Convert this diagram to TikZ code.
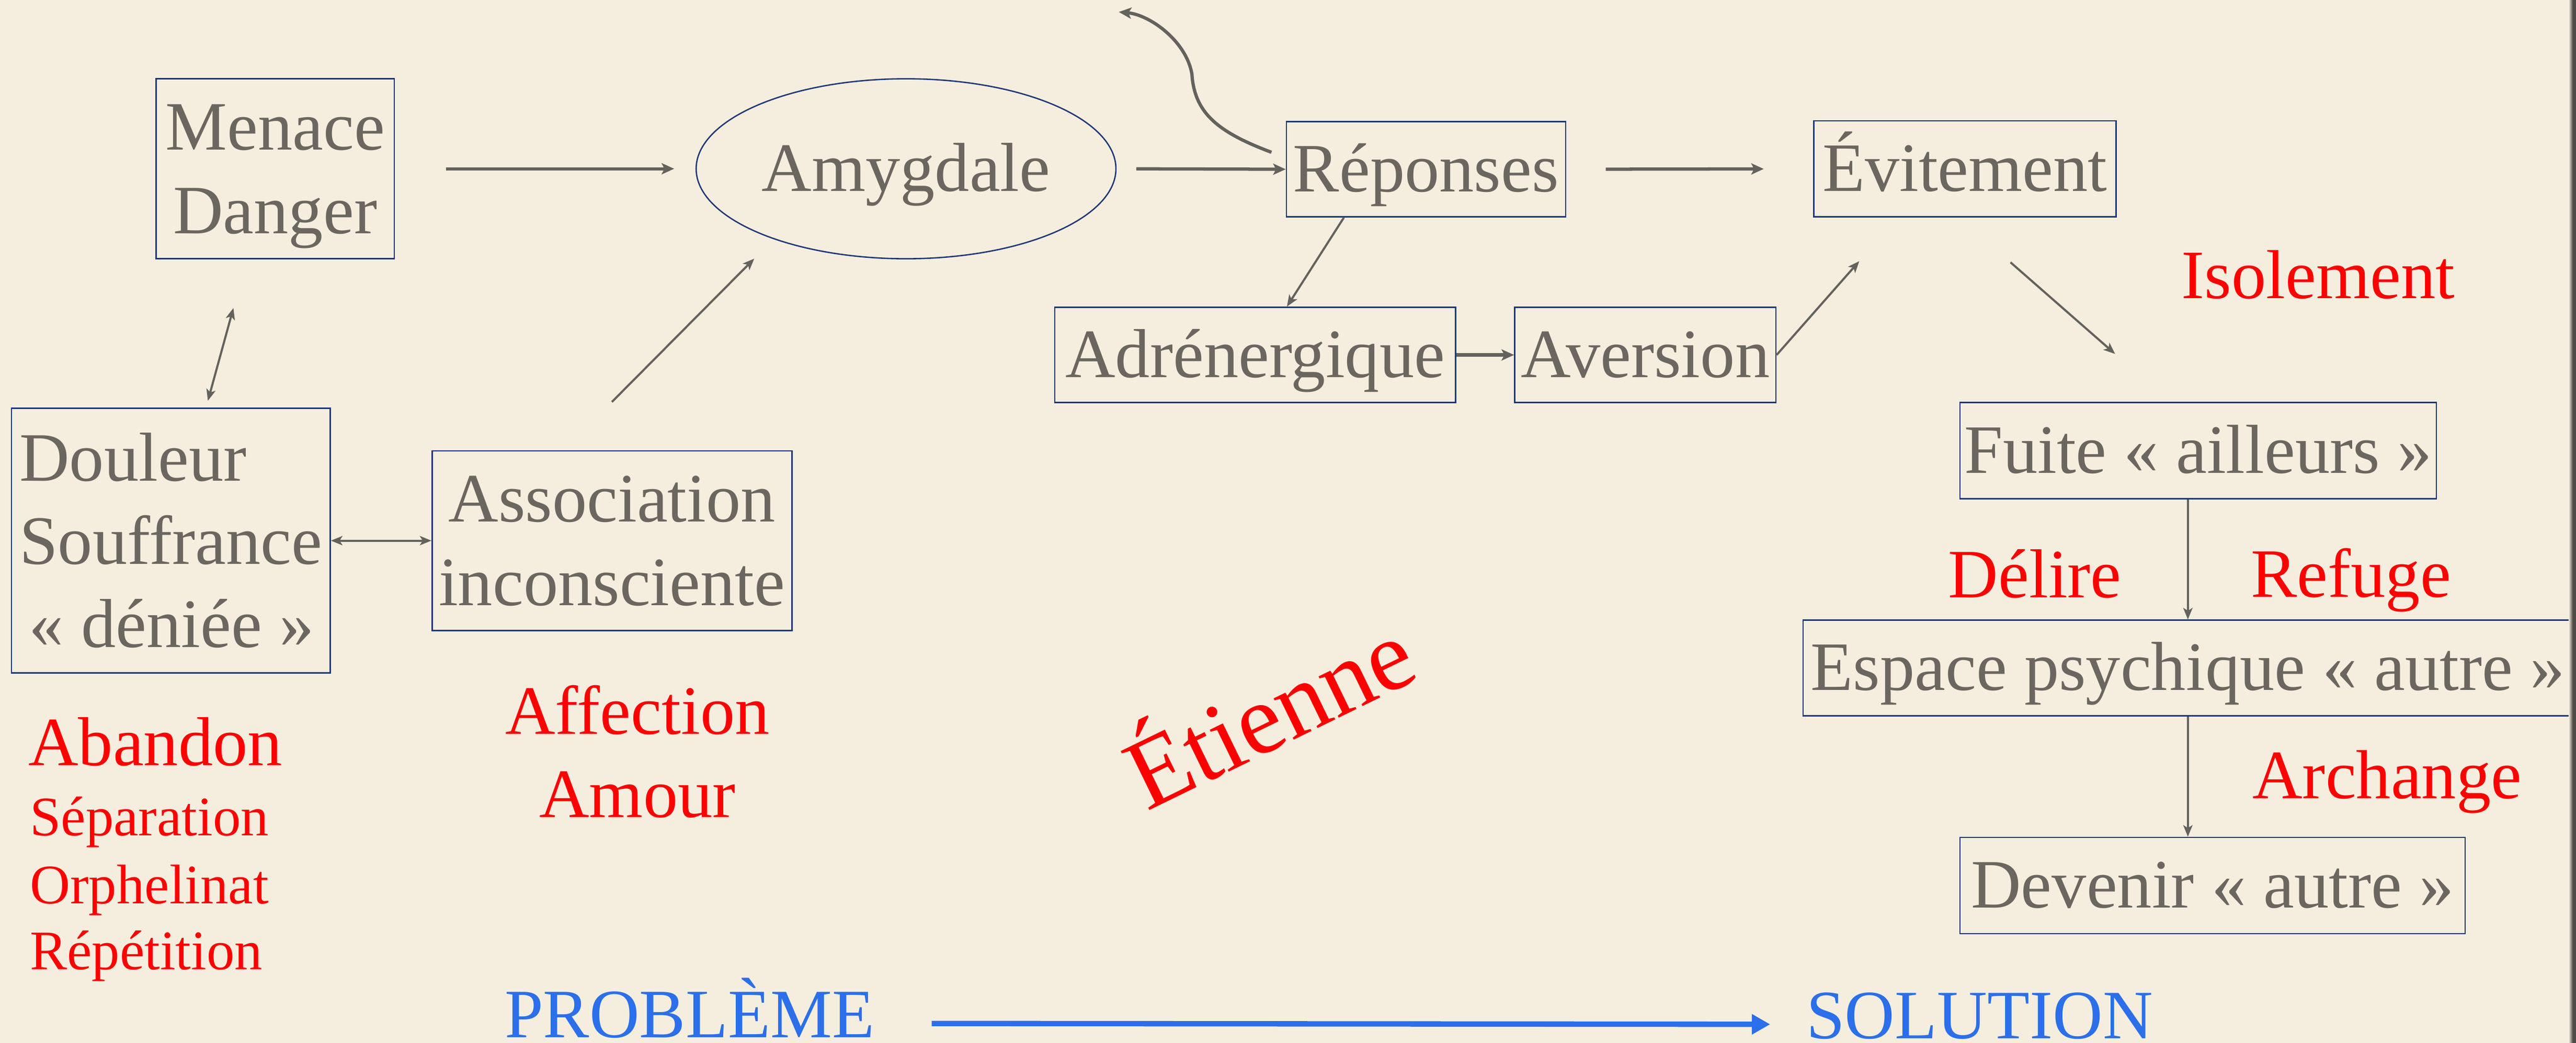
\documentclass[tikz,border=0pt]{standalone}
\usepackage{fontspec}
\setmainfont{Liberation Serif}
\usetikzlibrary{arrows.meta,shapes.geometric}
\definecolor{bg}{HTML}{F5EEDF}
\definecolor{txtgray}{HTML}{6B6760}
\definecolor{boxblue}{HTML}{1E3778}
\definecolor{arrgray}{HTML}{64625D}
\definecolor{redc}{HTML}{FF0000}
\definecolor{bluec}{HTML}{2B6FEA}
\definecolor{edgec}{HTML}{4E4B46}
\begin{document}
\begin{tikzpicture}[x=0.03cm,y=-0.03cm,
  box/.style={draw=boxblue, line width=0.7pt, inner sep=0pt, text=txtgray,
    font=\fontsize{36}{43.3}\selectfont, text height=26pt, text depth=2.7pt},
  twoline/.style={text height=20pt, text depth=39.5pt},
  threeline/.style={text height=20pt, text depth=82.2pt},
  rtxt/.style={text=redc, inner sep=0pt, font=\fontsize{36}{43}\selectfont},
  rsmall/.style={rtxt, font=\fontsize{29}{35}\selectfont},
  btxt/.style={text=bluec, inner sep=0pt, font=\fontsize{36}{43}\selectfont},
  garrow/.style={draw=arrgray, line width=1.1pt, -{Stealth[length=6pt,width=4.8pt,inset=1.5pt]}},
  garrowthick/.style={draw=arrgray, line width=1.7pt, -{Stealth[length=6.5pt,width=5.8pt,inset=1.5pt]}},
  garrowboth/.style={draw=arrgray, line width=1.1pt, {Stealth[length=6pt,width=4.8pt,inset=1.5pt]}-{Stealth[length=6pt,width=4.8pt,inset=1.5pt]}},
  barrow/.style={draw=bluec, line width=2.8pt, -{Triangle[length=9.5pt,width=10pt]}}
]
\useasboundingbox (0,0) rectangle (1568,634.7);
\fill[bg] (0,0) rectangle (1568,634.7);

% boxes
\node[box, minimum width=4.35cm, minimum height=3.285cm, twoline] (menace) at (167.5,102.7)
  {\begin{tabular}[t]{@{}c@{}}Menace\\Danger\end{tabular}};
\node[draw=boxblue, line width=0.7pt, ellipse, inner sep=0pt, text=txtgray,
  font=\fontsize{36}{43.3}\selectfont, text height=26pt, text depth=2.7pt,
  minimum width=7.665cm, minimum height=3.285cm] (amyg) at (551.5,102.7) {Amygdale};
\node[box, minimum width=5.1cm, minimum height=1.74cm] (rep) at (868,103) {Réponses};
\node[box, minimum width=7.32cm, minimum height=1.74cm] (adr) at (764,216) {Adrénergique};
\node[box, minimum width=4.77cm, minimum height=1.74cm] (av) at (1001.5,216) {Aversion};
\node[box, minimum width=5.52cm, minimum height=1.755cm] (evit) at (1196,102.75) {Évitement};
\node[box, minimum width=8.7cm, minimum height=1.755cm] (fuite) at (1338,274.25) {Fuite « ailleurs »};
\node[box, minimum width=14.055cm, minimum height=1.746cm] (esp) at (1331.75,406.5) {Espace psychique « autre »};
\node[box, minimum width=9.225cm, minimum height=1.758cm] (dev) at (1346.75,538.9) {Devenir « autre »};
\node[box, minimum width=5.82cm, minimum height=4.83cm, threeline] (doul) at (104,329)
  {\begin{tabular}[t]{@{}l@{}}Douleur\\Souffrance\\\hspace{5pt}« déniée »\end{tabular}};
\node[box, minimum width=6.57cm, minimum height=3.28cm, twoline] (assoc) at (372.5,329)
  {\begin{tabular}[t]{@{}c@{}}Association\\inconsciente\end{tabular}};

% red labels
\node[rtxt, anchor=base west] (aband) at (17,465.7) {Abandon};
\node[rsmall, anchor=base west] (separ) at (18,508.6) {Séparation};
\node[rsmall, anchor=base west] (orph) at (18,549.8) {Orphelinat};
\node[rsmall, anchor=base west] (repet) at (18,590) {Répétition};
\node[rtxt, anchor=base] (affec) at (388,446.6) {Affection};
\node[rtxt, anchor=base] (amour) at (388,497.2) {Amour};
\node[rtxt, anchor=base] (isol) at (1411,181.7) {Isolement};
\node[rtxt, anchor=base] (delire) at (1238.6,363.7) {Délire};
\node[rtxt, anchor=base] (refuge) at (1431,363.4) {Refuge};
\node[rtxt, anchor=base] (arch) at (1453,485.8) {Archange};
\node[rtxt, font=\fontsize{52}{60}\selectfont, rotate=26, anchor=base west] (etienne) at (698,494) {Étienne};

% blue bottom line
\node[btxt, anchor=base west] (prob) at (307,631.5) {PROBLÈME};
\node[btxt, anchor=base west] (sol) at (1099.3,632) {SOLUTION};
\draw[barrow] ([xshift=1.04cm,yshift=0.26cm]prob.base east) -- ([xshift=-0.654cm,yshift=0.26cm]sol.base west);

% connectors
\draw[garrowthick, shorten <=0.93cm, shorten >=0.39cm] (menace.east) -- (amyg.west);
\draw[garrowboth, shorten <=0.92cm, shorten >=0.13cm] ([xshift=-0.519cm]menace.south) -- ([xshift=0.642cm]doul.north);
\draw[garrow, shorten <=1.24cm, shorten >=0.5cm] ([xshift=-0.876cm]assoc.north) -- (amyg.208.5);
\draw[garrowboth] (doul.east) -- (assoc.west);
\draw[garrowthick, shorten <=0.36cm] (amyg.east) -- (rep.west);
\draw[garrow] ([xshift=-1.5cm]rep.south) -- ([xshift=0.58cm]adr.north);
\coordinate (curvetip) at (681,7.3);
\draw[garrowthick] ([xshift=-0.26cm,yshift=0.31cm]rep.west) .. controls (740,80) and (727,68) .. (725.5,45) .. controls (722,25) and (700,9) .. (curvetip);
\draw[garrowthick] (adr.east) -- (av.west);
\draw[garrowthick, shorten <=0.72cm, shorten >=0.9cm] (rep.east) -- (evit.west);
\draw[garrow, shorten >=1.06cm] (av.east) -- ([xshift=-1.227cm]evit.south);
\draw[garrow, shorten <=1.24cm, shorten >=1.33cm] ([xshift=-0.1cm]evit.south) -- ([xshift=-0.516cm]fuite.north);
\draw[garrow] (fuite.south -| esp.north) -- (esp.north);
\draw[garrow] (esp.south) -- (esp.south |- dev.north);

% right page edge
\shade[left color=bg, right color=edgec] (1563.5,0) rectangle (1566,634.7);
\fill[edgec] (1566,0) rectangle (1568,634.7);
\end{tikzpicture}
\end{document}
